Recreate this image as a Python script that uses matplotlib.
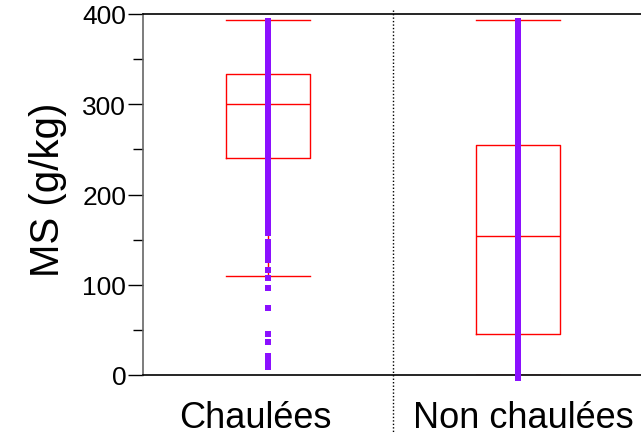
import matplotlib
matplotlib.use("Agg")
from matplotlib import pyplot as plt

plt.rcParams['font.family'] = ['Liberation Sans', 'DejaVu Sans']

groups = ["Chaulées", "Non chaulées"]

# box statistics (g/kg)
q1 = [240, 45]
med = [300, 154]
q3 = [333, 255]
whislo = [110, 0]
whishi = [393, 393]

# individual values (purple strips)
chaulees = [392, 387, 381, 376, 370, 365, 359, 354, 348, 343, 337, 332, 326, 321,
            316, 310, 305, 300, 295, 290, 284, 279, 274, 268, 263, 258, 252, 247,
            242, 236, 231, 226, 220, 215, 210, 204, 199, 194, 188, 183, 178, 172,
            167, 162, 157, 147, 141, 134, 127, 116, 107, 96, 74, 45, 37, 21, 14, 9]
non_chaulees = [392, 386, 381, 375, 370, 364, 359, 353, 348, 342, 337, 331, 326, 320,
                315, 309, 304, 298, 293, 287, 282, 276, 271, 265, 260, 254, 249, 243,
                238, 232, 227, 221, 216, 210, 205, 199, 194, 188, 183, 177, 172, 166,
                161, 155, 150, 144, 139, 133, 128, 122, 117, 111, 106, 100, 95, 89,
                84, 78, 73, 67, 62, 56, 51, 45, 40, 34, 29, 23, 18, 12, 7, 1, -3]

yticks = [0, 100, 200, 300, 400]

fig = plt.figure(figsize=(6.41, 4.35), dpi=100)
ax = fig.add_axes([143/641, 1 - 376/435, 500/641, 361/435])

stats = []
for i in range(2):
    stats.append(dict(med=med[i], q1=q1[i], q3=q3[i], whislo=whislo[i], whishi=whishi[i], fliers=[]))

red = dict(color='#FF0000', linewidth=1)
ax.bxp(stats, positions=[0, 1], widths=0.335, capwidths=0.335, showfliers=False,
       boxprops=red, medianprops=red, whiskerprops=red, capprops=red,
       manage_ticks=False)

purple = '#8B10FF'
for i, vals in enumerate([chaulees, non_chaulees]):
    ax.plot([i] * len(vals), vals, 's', ms=5, mew=0, color=purple, zorder=5, clip_on=False)

ax.axvline(0.5, ymin=-0.165, ymax=1.01, color='black', linestyle=(0, (1, 1.5)),
           linewidth=1, clip_on=False)

ax.set_xlim(-0.5, 1.5)
ax.set_ylim(0, 400)
ax.set_yticks(yticks)
ax.set_yticks([50, 150, 250, 350], minor=True)
ax.tick_params(axis='y', which='major', length=11, width=1, labelsize=19, pad=1)
ax.tick_params(axis='y', which='minor', length=7, width=1)
ax.set_xticks([])

ax.spines['right'].set_visible(False)
ax.spines['left'].set_color('#666666')
ax.spines['left'].set_linewidth(1.2)
ax.spines['top'].set_linewidth(1.2)
ax.spines['bottom'].set_linewidth(1.2)

ax.text(-0.052, -0.144, groups[0], transform=ax.get_xaxis_transform(),
        ha='center', va='baseline', fontsize=26)
ax.text(1.02, -0.144, groups[1], transform=ax.get_xaxis_transform(),
        ha='center', va='baseline', fontsize=26)

fig.text(48/641, 1 - 190/435, "MS (g/kg)", rotation=90, ha='center', va='center', fontsize=29)

plt.savefig('out.png', dpi=100)
